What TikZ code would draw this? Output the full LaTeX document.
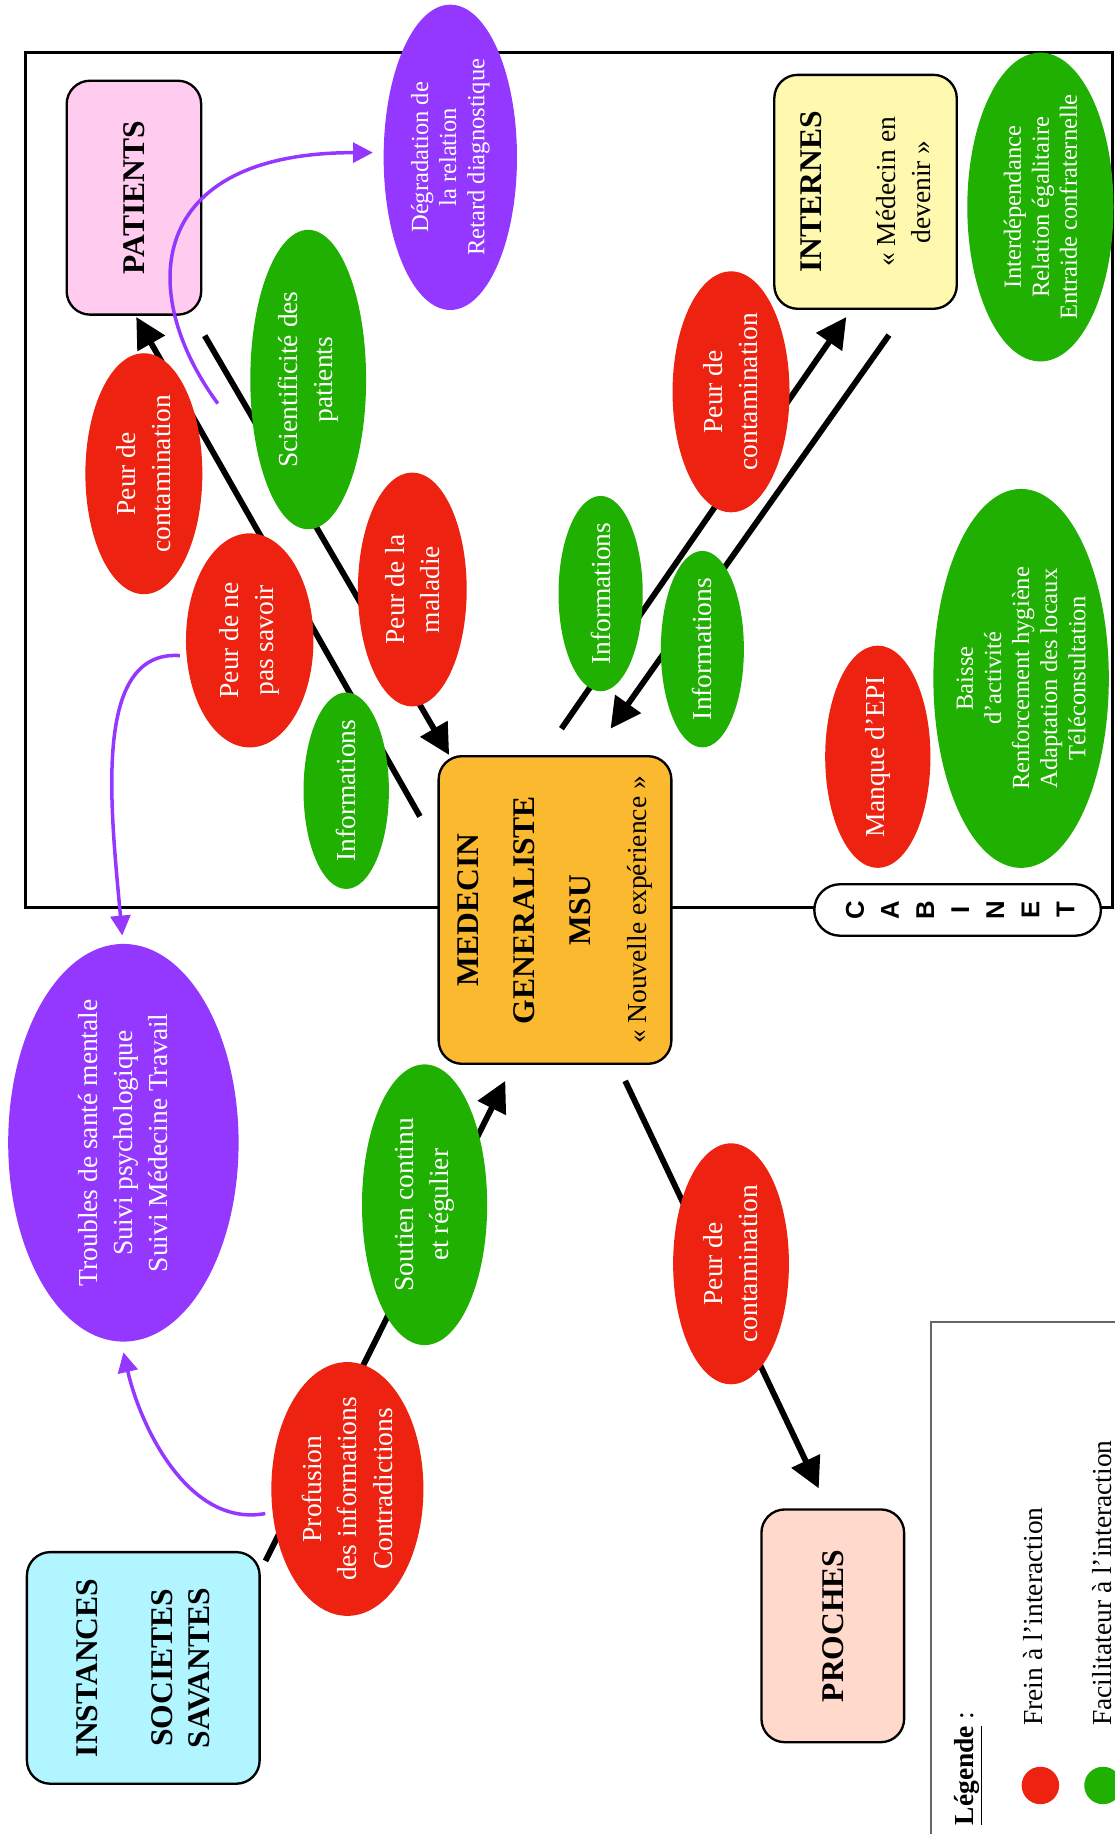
\documentclass[tikz,border=0pt]{standalone}
\usepackage{fontspec}
\setmainfont{Liberation Serif}
\newfontfamily\cabfont{Liberation Sans}
\usetikzlibrary{positioning,shapes.geometric,arrows.meta}

\definecolor{frein}{RGB}{237,34,16}
\definecolor{facil}{RGB}{32,176,2}
\definecolor{impact}{RGB}{148,56,255}
\definecolor{mgbox}{RGB}{251,185,47}
\definecolor{patbox}{RGB}{255,204,240}
\definecolor{intbox}{RGB}{255,249,176}
\definecolor{instbox}{RGB}{176,245,255}
\definecolor{probox}{RGB}{255,218,204}

\newcommand\blobfont{\fontsize{23.5}{30}\selectfont}
\newcommand\smallblobfont{\fontsize{21}{24}\selectfont}
\newcommand\headfont{\fontsize{27}{32}\selectfont\bfseries}

\tikzset{
    frein/.style = {
        shape=ellipse,
        fill=frein,
        inner sep=0pt
    },
    facil/.style = {
        shape=ellipse,
        fill=facil,
        inner sep=0pt
    },
    impact/.style = {
        shape=ellipse,
        fill=impact,
        inner sep=0pt
    },
    blobtext/.style = {
        rotate=90,
        align=center,
        text=white,
        font=\blobfont
    },
    smalltext/.style = {
        blobtext,
        font=\smallblobfont
    },
    actor/.style = {
        draw,
        shape=rectangle,
        rounded corners=20pt,
        line width=2pt,
        inner sep=0pt
    },
    actortext/.style = {
        rotate=90,
        align=center,
        font=\headfont
    },
    cabletter/.style = {
        rotate=90,
        font=\cabfont\bfseries\fontsize{22}{24}\selectfont
    },
    legtext/.style = {
        rotate=90,
        anchor=base west,
        font=\blobfont
    },
    flow/.style = {
        line width=5pt,
        ->
    },
    impactarrow/.style = {
        draw=impact,
        line width=3pt,
        -{Triangle[length=17pt,width=17pt]}
    },
    >={Triangle[length=26pt,width=26pt]},
}

\begin{document}
\begin{tikzpicture}[x=1pt,y=-1pt]
    \useasboundingbox (0,0) rectangle (953,1568);

    % cabinet
    \draw[line width=2.2pt] (22,45) rectangle (951,776);

    % acteurs
    \node[actor, fill=patbox, minimum width=115pt, minimum height=200pt,
        label={[actortext]center:PATIENTS}] (patients) at (114.5,169) {};
    \node[actor, fill=intbox, minimum width=156pt, minimum height=200pt,
        label={[actortext, font=\blobfont]center:{\headfont INTERNES}\\[33pt]«~Médecin en\\devenir~»}] (internes) at (740,164) {};
    \node[actor, fill=mgbox, minimum width=199pt, minimum height=263pt,
        label={[actortext, font=\fontsize{27}{48}\selectfont\bfseries]center:MEDECIN\\GENERALISTE\\MSU\\{\mdseries\blobfont «~Nouvelle expérience~»}}] (medecin) at (474.5,778) {};
    \node[actor, fill=instbox, minimum width=199pt, minimum height=198pt,
        label={[actortext]center:INSTANCES\\[32pt]SOCIETES\\SAVANTES}] (instances) at (122.5,1426) {};
    \node[actor, fill=probox, minimum width=122pt, minimum height=199pt,
        label={[actortext]center:PROCHES}] (proches) at (712,1390) {};

    % interactions
    \path[draw, flow] ([shift={(-15,-80)}]medecin.west) -- ([shift={(2,1)}]patients.south);
    \path[draw, flow] ([shift={(2,17)}]patients.south east) -- ([shift={(10,0)}]medecin.north west);
    \path[draw, flow] ([shift={(5.5,-22.5)}]medecin.north) -- ([shift={(-16.4,6)}]internes.south);
    \path[draw, flow] ([shift={(20,21.5)}]internes.south) -- ([shift={(47.5,-22.5)}]medecin.north);
    \path[draw, flow] ([shift={(4,8.5)}]instances.north east) -- ([shift={(-42.5,13.6)}]medecin.south);
    \path[draw, flow] ([shift={(60,13.6)}]medecin.south) -- ([shift={(-12,-17)}]proches.north);

    % freins et facilitateurs
    \node[impact, minimum width=114pt, minimum height=261pt,
        label={[smalltext]center:Dégradation de\\la relation\\Retard diagnostique}] (degrad) at (385,134.5) {};
    \node[facil, minimum width=99pt, minimum height=256pt,
        label={[blobtext]center:Scientificité des\\patients}] (scient) at (263.5,324.5) {};
    \node[frein, minimum width=100pt, minimum height=206pt,
        label={[blobtext]center:Peur de\\contamination}] (peurpat) at (123,405) {};
    \node[frein, minimum width=109pt, minimum height=183pt,
        label={[blobtext]center:Peur de ne\\pas savoir}] (peurns) at (213.5,547.5) {};
    \node[frein, minimum width=93pt, minimum height=200pt,
        label={[blobtext]center:Peur de la\\maladie}] (peurmal) at (352.5,504) {};
    \node[facil, minimum width=73pt, minimum height=168pt,
        label={[blobtext]center:Informations}] (infopat) at (296,676) {};
    \node[facil, minimum width=72pt, minimum height=167pt,
        label={[blobtext]center:Informations}] (infoint) at (513.5,507.5) {};
    \node[facil, minimum width=71pt, minimum height=168pt,
        label={[blobtext]center:Informations}] (infomg) at (600.5,555) {};
    \node[frein, minimum width=100pt, minimum height=206pt,
        label={[blobtext]center:Peur de\\contamination}] (peurint) at (625,335) {};
    \node[facil, minimum width=125pt, minimum height=264pt,
        label={[smalltext]center:Interdépendance\\Relation égalitaire\\Entraide confraternelle}] (interdep) at (889.5,177) {};
    \node[frein, minimum width=90pt, minimum height=190pt,
        label={[blobtext]center:Manque d’EPI}] (manque) at (750.5,647) {};
    \node[facil, minimum width=150pt, minimum height=324pt,
        label={[smalltext]center:Baisse\\d’activité\\Renforcement hygiène\\Adaptation des locaux\\Téléconsultation}] (baisse) at (873,580) {};
    \node[impact, minimum width=197pt, minimum height=340pt,
        label={[blobtext]center:Troubles de santé mentale\\Suivi psychologique\\Suivi Médecine Travail}] (troubles) at (105.5,977) {};
    \node[facil, minimum width=107pt, minimum height=240pt,
        label={[blobtext]center:Soutien continu\\et régulier}] (soutien) at (363,1030) {};
    \node[frein, minimum width=130pt, minimum height=217pt,
        label={[blobtext]center:Profusion\\des informations\\Contradictions}] (profusion) at (297,1273) {};
    \node[frein, minimum width=99pt, minimum height=206pt,
        label={[blobtext]center:Peur de\\contamination}] (peurpro) at (625,1080.5) {};

    % retentissements
    \path[impactarrow] ([shift={(13,-60)}]peurpat.east) .. controls +(-70,-95) and +(-194,0) .. ([shift={(-9,-4)}]degrad.west);
    \path[impactarrow] ([shift={(-5,13)}]peurns.west) .. controls +(-75,-5) and +(-10,-110) .. ([shift={(-1,-7)}]troubles.north);
    \path[impactarrow] ([shift={(-5,21)}]profusion.west) .. controls +(-65,12) and +(15,65) .. ([shift={(0,9)}]troubles.south);

    % etiquette cabinet
    \node[draw, line width=2pt, fill=white, rounded corners=22pt, minimum width=245pt,
        minimum height=44pt, inner sep=0pt] (cabinet) at (818.7,778) {};
    \foreach \l [count=\i] in {C,A,B,I,N,E,T}
        \node[cabletter] (cab\i) at ({701+30*\i},778) {\l};

    % legende
    \draw[line width=1.5pt, black!60] (796,1568) |- (953,1130);
    \node[legtext] (legtitle) at (832,1564) {\textbf{\underline{Légende}} :};
    \node[circle, fill=frein, minimum size=32pt, inner sep=0pt] (legfrein) at (889.5,1526.5) {};
    \node[circle, fill=facil, minimum size=32pt, inner sep=0pt] (legfacil) at (943,1526.5) {};
    \node[legtext] (legfreintxt) at (891.5,1479) {Frein à l’interaction};
    \node[legtext] (legfaciltxt) at (950,1479) {Facilitateur à l’interaction};
\end{tikzpicture}
\end{document}
